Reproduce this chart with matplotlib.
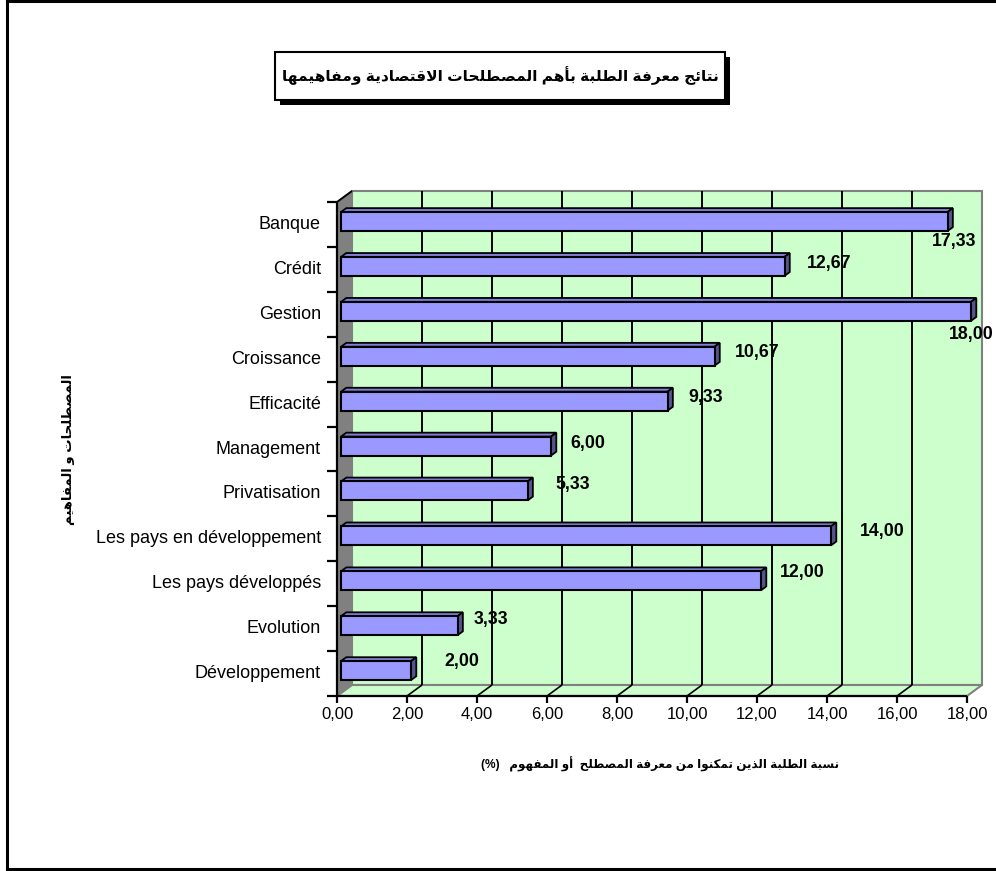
import matplotlib
matplotlib.use("Agg")
import matplotlib.pyplot as plt
from matplotlib.patches import Polygon, Rectangle
from matplotlib.lines import Line2D

# ---------------- data ----------------
categories = ["Banque", "Crédit", "Gestion", "Croissance", "Efficacité", "Management",
              "Privatisation", "Les pays en développement", "Les pays développés",
              "Evolution", "Développement"]
values = [17.33, 12.67, 18.00, 10.67, 9.33, 6.00, 5.33, 14.00, 12.00, 3.33, 2.00]
value_labels = ["17,33", "12,67", "18,00", "10,67", "9,33", "6,00", "5,33",
                "14,00", "12,00", "3,33", "2,00"]
x_ticks = [0, 2, 4, 6, 8, 10, 12, 14, 16, 18]
x_tick_labels = ["0,00", "2,00", "4,00", "6,00", "8,00", "10,00", "12,00", "14,00", "16,00", "18,00"]
title_text = "نتائج معرفة الطلبة بأهم المصطلحات الاقتصادية ومفاهيمها"
ylabel_text = "المصطلحات و المفاهيم"
xlabel_text = "نسبة الطلبة الذين تمكنوا من معرفة المصطلح  أو المفهوم"

# label placement (offsets in data units relative to bar end / slot centre)
label_dx = [-0.33, 0.76, -0.52, 0.70, 0.70, 0.66, 0.90, 0.94, 0.66, 0.58, 1.06]
label_dy = [-0.39, 0.12, -0.46, 0.14, 0.14, 0.13, 0.22, 0.17, 0.26, 0.21, 0.26]

# ---------------- minimal Arabic shaping ----------------
FORMS = {
    'ا': (0xFE8D, 0xFE8E), 'أ': (0xFE83, 0xFE84), 'د': (0xFEA9, 0xFEAA),
    'ذ': (0xFEAB, 0xFEAC), 'ر': (0xFEAD, 0xFEAE), 'و': (0xFEED, 0xFEEE),
    'ة': (0xFE93, 0xFE94),
    'ئ': (0xFE89, 0xFE8A, 0xFE8B, 0xFE8C), 'ب': (0xFE8F, 0xFE90, 0xFE91, 0xFE92),
    'ت': (0xFE95, 0xFE96, 0xFE97, 0xFE98), 'ج': (0xFE9D, 0xFE9E, 0xFE9F, 0xFEA0),
    'ح': (0xFEA1, 0xFEA2, 0xFEA3, 0xFEA4), 'س': (0xFEB1, 0xFEB2, 0xFEB3, 0xFEB4),
    'ص': (0xFEB9, 0xFEBA, 0xFEBB, 0xFEBC), 'ط': (0xFEC1, 0xFEC2, 0xFEC3, 0xFEC4),
    'ع': (0xFEC9, 0xFECA, 0xFECB, 0xFECC), 'ف': (0xFED1, 0xFED2, 0xFED3, 0xFED4),
    'ق': (0xFED5, 0xFED6, 0xFED7, 0xFED8), 'ك': (0xFED9, 0xFEDA, 0xFEDB, 0xFEDC),
    'ل': (0xFEDD, 0xFEDE, 0xFEDF, 0xFEE0), 'م': (0xFEE1, 0xFEE2, 0xFEE3, 0xFEE4),
    'ن': (0xFEE5, 0xFEE6, 0xFEE7, 0xFEE8), 'ه': (0xFEE9, 0xFEEA, 0xFEEB, 0xFEEC),
    'ي': (0xFEF1, 0xFEF2, 0xFEF3, 0xFEF4),
}
LAM_ALEF = {'ا': (0xFEFB, 0xFEFC), 'أ': (0xFEF7, 0xFEF8)}


def shape_arabic(text):
    tokens = []
    i = 0
    while i < len(text):
        c = text[i]
        if c == 'ل' and i + 1 < len(text) and text[i + 1] in LAM_ALEF:
            tokens.append(LAM_ALEF[text[i + 1]])
            i += 2
            continue
        tokens.append(FORMS.get(c, c))
        i += 1
    out = []
    for k, t in enumerate(tokens):
        if isinstance(t, str):
            out.append(t)
            continue
        prev = tokens[k - 1] if k > 0 else None
        nxt = tokens[k + 1] if k + 1 < len(tokens) else None
        cp = prev is not None and not isinstance(prev, str) and len(prev) == 4
        cn = len(t) == 4 and nxt is not None and not isinstance(nxt, str)
        if cp and cn:
            code = t[3]
        elif cp:
            code = t[1]
        elif cn:
            code = t[2]
        else:
            code = t[0]
        out.append(chr(code))
    return "".join(reversed(out))


# ---------------- figure ----------------
W, H = 996, 871
fig = plt.figure(figsize=(W / 100, H / 100), dpi=100)
fig.patch.set_facecolor("white")

LAT = ["Liberation Sans", "DejaVu Sans"]
AR = ["Liberation Sans", "DejaVu Sans"]

# front plane geometry in pixels
x0_px, x1_px = 337, 967
yb_px, yt_px = 696, 202
n = len(categories)
ax = fig.add_axes([x0_px / W, 1 - yb_px / H, (x1_px - x0_px) / W, (yb_px - yt_px) / H])
ax.set_xlim(0, 18)
ax.set_ylim(0, n)
ax.axis("off")

px_per_x = (x1_px - x0_px) / 18.0
px_per_y = (yb_px - yt_px) / n
DEPTH_DX, DEPTH_DY = 15.0, 11.0


def P(x, y, z):
    return (x + z * DEPTH_DX / px_per_x, y + z * DEPTH_DY / px_per_y)


def poly(pts, fc, ec, lw, zorder):
    ax.add_patch(Polygon(pts, closed=True, facecolor=fc, edgecolor=ec, linewidth=lw,
                         zorder=zorder, clip_on=False, joinstyle="miter"))


def line(p, q, color="black", lw=1.4, zorder=3):
    ax.add_line(Line2D([p[0], q[0]], [p[1], q[1]], color=color, linewidth=lw,
                       zorder=zorder, clip_on=False, solid_capstyle="butt"))


GREEN = "#CCFFCC"
GRAY = "#808080"
# back wall
poly([P(0, 0, 1), P(18, 0, 1), P(18, n, 1), P(0, n, 1)], GREEN, GRAY, 1.5, 1)
# floor
poly([P(0, 0, 0), P(18, 0, 0), P(18, 0, 1), P(0, 0, 1)], GREEN, GRAY, 1.5, 1)
# left wall
poly([P(0, 0, 0), P(0, 0, 1), P(0, n, 1), P(0, n, 0)], GRAY, GRAY, 1.0, 1)
# grid lines
for t in x_ticks[1:-1]:
    line(P(t, 0, 1), P(t, n, 1), lw=1.4, zorder=2)
    line(P(t, 0, 0), P(t, 0, 1), lw=1.2, zorder=2)
line(P(0, n, 0), P(0, n, 1), lw=1.4, zorder=2)

# axes lines
line(P(0, 0, 0), P(18, 0, 0), lw=1.6, zorder=4)
line(P(0, 0, 0), P(0, n, 0), lw=1.6, zorder=4)
tick_len_x = 7 / px_per_y
for t, lab in zip(x_ticks, x_tick_labels):
    line((t, 0), (t, -tick_len_x), lw=1.6, zorder=4)
    ax.text(t, -18 / px_per_y, lab, ha="center", va="center", fontsize=12,
            family=LAT, clip_on=False)
tick_len_y = 10 / px_per_x
for k in range(n + 1):
    line((0, k), (-tick_len_y, k), lw=1.6, zorder=4)

# category labels (Banque at top)
for i, cat in enumerate(categories):
    yc = n - i - 0.5
    ax.text(-16 / px_per_x, yc, cat, ha="right", va="center", fontsize=13,
            family=LAT, clip_on=False)

# bars
z0, z1 = 0.27, 0.62
bar_h = 19 / px_per_y
FRONT = "#9999FF"
TOP = "#7F7FD6"
SIDE = "#54548F"
for i, v in enumerate(values):
    yc = n - i - 0.5
    lo, hi = yc - bar_h / 2, yc + bar_h / 2
    poly([P(0, hi, z0), P(v, hi, z0), P(v, hi, z1), P(0, hi, z1)], TOP, "black", 1.3, 5)
    poly([P(v, lo, z0), P(v, lo, z1), P(v, hi, z1), P(v, hi, z0)], SIDE, "black", 1.3, 5)
    poly([P(0, lo, z0), P(v, lo, z0), P(v, hi, z0), P(0, hi, z0)], FRONT, "black", 1.5, 6)
    ax.text(v + label_dx[i], yc + label_dy[i], value_labels[i], ha="left", va="center",
            fontsize=12.8, fontweight="bold", family=LAT, clip_on=False, zorder=8)

# axis titles
fig.text(660 / W, 1 - 764 / H, "(%)   " + shape_arabic(xlabel_text), ha="center",
         va="center", fontsize=8.6, fontweight="bold", family=AR)
fig.text(68 / W, 1 - 450 / H, shape_arabic(ylabel_text), ha="center", va="center",
         rotation=90, fontsize=9.5, fontweight="bold", family=AR)

# title box with shadow
bx0, by0, bx1, by1 = 275, 52, 725, 100
fig.add_artist(Rectangle((( bx0 + 5) / W, 1 - (by1 + 5) / H), (bx1 - bx0) / W, (by1 - by0) / H,
                         transform=fig.transFigure, facecolor="black", edgecolor="black",
                         linewidth=0, zorder=1))
fig.add_artist(Rectangle((bx0 / W, 1 - by1 / H), (bx1 - bx0) / W, (by1 - by0) / H,
                         transform=fig.transFigure, facecolor="white", edgecolor="black",
                         linewidth=1.5, zorder=2))
fig.text((bx0 + bx1) / 2 / W, 1 - (by0 + by1) / 2 / H, shape_arabic(title_text),
         ha="center", va="center", fontsize=11.1, fontweight="bold", family=AR, zorder=3)

# outer border (right edge lies outside the picture)
for (xa, ya, xb, yb) in [(7, 1, 1000, 1), (7, 1, 7, 869), (7, 869, 1000, 869)]:
    fig.add_artist(Line2D([xa / W, xb / W], [1 - ya / H, 1 - yb / H], transform=fig.transFigure,
                          color="black", linewidth=2.2))

fig.savefig("out.png", dpi=100)
